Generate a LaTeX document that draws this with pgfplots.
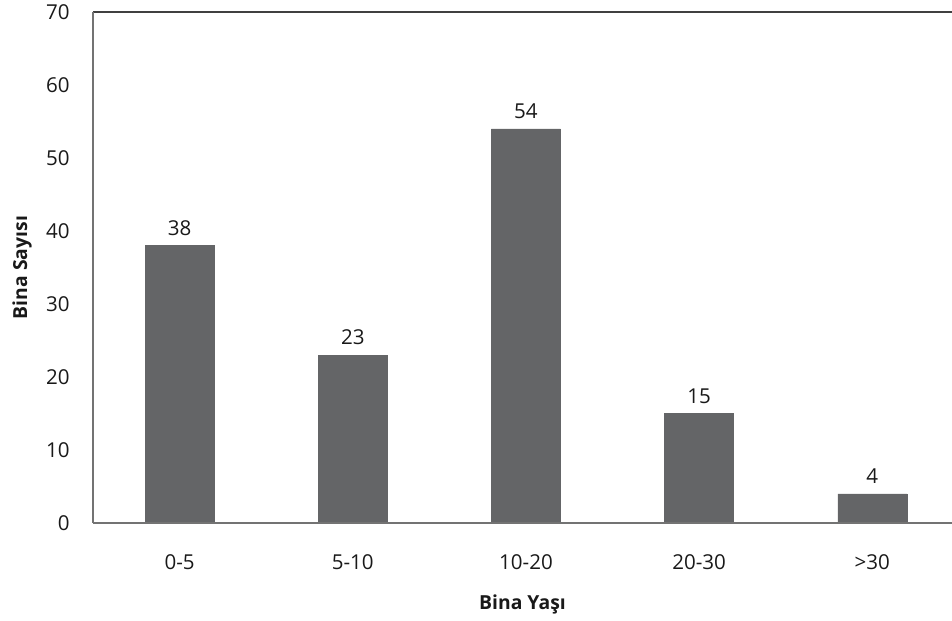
\documentclass[border=0pt]{standalone}
\usepackage{pgfplots}
\pgfplotsset{compat=1.18}
\usepackage{fontspec}
\setmainfont{Open Sans}
\definecolor{barg}{HTML}{646567}
\begin{document}
\begin{tikzpicture}
\begin{axis}[
  scale only axis,
  width=644.25pt, height=383.25pt,
  xmin=-0.5, xmax=4.46,
  ymin=0, ymax=70,
  ytick={0,10,...,70},
  xtick=data,
  xticklabels={0-5,5-10,10-20,20-30,>30},
  axis line style={draw=none},
  major tick length=0pt,
  tick style={draw=none},
  /pgf/number format/assume math mode=true,
  ticklabel style={font=\fontsize{15.4}{17}\selectfont, text=black!90},
  yticklabel style={xshift=-14pt},
  xticklabel style={yshift=-20pt},
  ylabel={\textbf{Bina Sayısı}},
  xlabel={\textbf{Bina Yaşı}},
  label style={font=\fontsize{14.5}{16}\selectfont, text=black!90},
  ylabel shift=4pt,
  xlabel style={at={(rel axis cs:0.5,0)}, yshift=-50pt, anchor=north},
  ybar, bar width=51.75pt,
  nodes near coords,
  every node near coord/.append style={font=\fontsize{15.4}{17}\selectfont, text=black!90, yshift=4pt},
  clip=false,
]
\addplot[fill=barg, draw=barg] coordinates {(0,38) (1,23) (2,54) (3,15) (4,4)};
\draw[color=black!75, line width=2.2pt] (rel axis cs:0,1) -- (rel axis cs:1,1);
\draw[color=black!55, line width=1.8pt] (rel axis cs:0,0) -- (rel axis cs:0,1);
\draw[color=black!55, line width=2pt] (rel axis cs:0,0) -- (rel axis cs:1,0);
\end{axis}
\pgfresetboundingbox
\path (current axis.south west) ++(-69.75pt,-73.5pt) coordinate (bl);
\path (current axis.north east) ++(0pt,9pt) coordinate (tr);
\useasboundingbox (bl) rectangle (tr);
\end{tikzpicture}
\end{document}
